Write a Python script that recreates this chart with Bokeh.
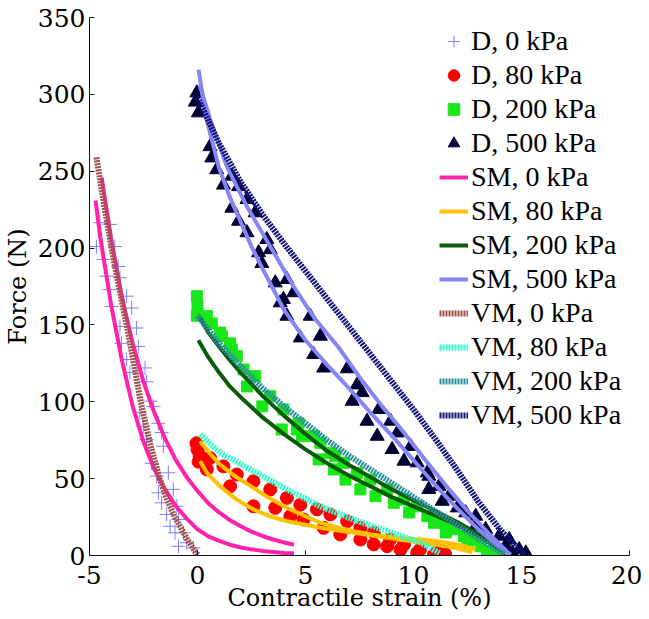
from bokeh.plotting import figure
from bokeh.models import Legend, LegendItem, Range1d, FixedTicker
from bokeh.embed import file_html
from bokeh.resources import INLINE

# ---------------- data ----------------
d0_x = [-4.52, -4.06, -4.68, -3.83, -4.36, -3.67, -4.21, -3.59, -4.06, -3.28, -3.98, -3.05,
        -3.59, -2.82, -3.52, -2.74, -3.28, -2.43, -3.13, -2.36, -2.20, -2.67, -2.04, -2.51,
        -1.81, -2.36, -1.66, -2.12, -1.58, -1.89, -1.35, -1.81, -1.12, -1.66, -0.96, -1.43,
        -0.88, -1.27, -0.65, -1.04, -0.50, -0.88, -0.19, -0.03]
d0_y = [216.5, 215.4, 201, 201, 192.6, 188, 181.7, 180.7, 173, 168.7, 162, 161,
        149, 148, 138, 136, 127.5, 122, 119, 113, 100.4, 93, 97, 84,
        86, 75.5, 80, 60, 71, 51.6, 53.8, 40.8, 43, 34.3, 32, 26.7,
        23.4, 19, 14.8, 14.8, 8.3, 6, 5, 0]

d80_x = [-0.05, 0.0, 0.1, 0.05, 0.58, 1.20, 1.82, 2.59, 3.37, 4.14, 4.76, 5.53, 6.15, 6.93,
         7.54, 8.16, 8.92, 9.56, 10.3, 11.1, 11.47,
         0.43, 1.51, 2.59, 3.6, 4.3, 4.91, 5.84, 6.61, 7.54, 8.16, 8.78, 9.4, 10.17, 10.95]
d80_y = [73, 69, 65, 61, 63.5, 58, 52.7, 48.3, 43, 37.5, 33, 30, 26.7, 22.3,
         18, 14.8, 10.4, 7.2, 3.9, 2, 0.7,
         56, 45, 32, 31, 25.6, 23.4, 18, 13.7, 10.4, 7.2, 6, 3.9, 1.7, 0.7]

d200_x = [-0.03, 0.0, -0.03, 0.43, 0.66, 1.05, 1.13, 1.51, 1.59, 1.82, 2.13, 2.29, 2.67,
          3.0, 3.37, 3.9, 3.98, 4.6, 4.68, 4.84, 5.38, 5.61, 5.69, 6.15, 6.31, 6.38, 6.77,
          6.85, 7.39, 7.54, 8.0, 8.24, 8.78, 9.09, 9.56, 9.8, 10.17, 10.64, 10.95, 11.41,
          11.5, 11.88, 12.34, 12.5, 12.8, 13.11, 13.4, 13.73, 14.0, 14.35]
d200_y = [168.7, 162, 156, 155.7, 151, 145, 142.7, 138, 134, 129.7, 121, 110, 116.7,
          97, 103.6, 82, 95, 82, 86, 77.6, 77.6, 62.5, 73.3, 66.8, 56, 64.6, 60.3,
          49.4, 53.8, 43, 49.4, 38.6, 43, 34.3, 36.4, 28, 32, 25.6, 21.3, 21.3,
          15, 17, 12.6, 8, 10.4, 6, 3, 1.7, 1, 0]

d500_x = [-0.03, 0.04, -0.1, 0.58, 0.66, 0.89, 1.2, 1.59, 1.59, 1.9, 1.9, 2.29, 2.29, 2.67,
          2.83, 2.98, 3.21, 3.37, 3.6, 3.83, 3.98, 4.14, 4.14, 4.45, 4.76, 5.22, 5.38, 5.69,
          5.84, 6.93, 7.16, 7.39, 7.62, 7.85, 8.32, 8.39, 8.94, 9.01, 9.25, 9.56, 9.87,
          10.17, 10.64, 10.71, 10.71, 11.18, 11.33, 11.64, 12.03, 12.42, 12.88, 12.88,
          13.34, 13.96, 14.27, 14.43, 14.58, 14.89, 15.2]
d500_y = [301, 288, 295, 266, 258.7, 251, 241, 246.8, 226, 240, 217.5, 231.6, 210, 223,
          197, 190, 205.6, 199, 177.4, 164.4, 166.6, 179.6, 155.7, 171, 141.6, 155.7, 130.8, 142.7,
          122, 121.5, 100.4, 111, 106, 87.4, 77.6, 95, 87.4, 69, 79.8, 61.4, 71,
          60.3, 53.8, 51.6, 43, 45, 35.3, 38.6, 31, 27.8, 25.6, 19,
          17, 12.6, 6, 10.4, 1.7, 3.9, 1.7]

sm0a_x = [-4.44, -4.0, -3.5, -3.0, -2.5, -2.0, -1.5, -1.0, -0.5, 0.0, 0.5, 1.0, 1.5, 2.0,
          2.5, 3.0, 3.5, 4.0, 4.47]
sm0a_y = [246, 206, 168, 138, 113, 93, 76, 62, 51, 42, 34, 28, 23, 19,
          15.5, 12.7, 10.4, 8.5, 7.0]
sm0b_x = [-4.72, -4.5, -4.0, -3.5, -3.0, -2.5, -2.0, -1.5, -1.0, -0.5, 0.0, 0.5, 1.0, 1.5,
          2.0, 2.5, 3.0, 3.5, 4.0, 4.47]
sm0b_y = [231, 207, 163, 127, 97, 74, 56, 43, 32, 24, 17, 12.5, 9.5, 7,
          5.2, 4, 3, 2.3, 1.7, 1.3]

sm80a_x = [0.12, 0.6, 1.05, 1.8, 2.59, 3.3, 4.14, 5.0, 5.69, 6.5, 7.23, 8.0, 8.78, 9.5,
           10.33, 11.0, 11.57, 12.3, 12.87]
sm80a_y = [74.4, 66, 59, 51, 44, 37.5, 31, 25.5, 21.3, 18.3, 15.8, 13.8, 12.2, 11.2,
           10.4, 9.5, 8.3, 6.3, 3.9]
sm80b_x = [0.12, 0.43, 1.05, 1.8, 2.59, 3.3, 4.14, 5.0, 5.69, 6.5, 7.23, 8.0, 8.78, 9.5,
           10.33, 11.0, 11.57, 12.2, 12.73]
sm80b_y = [61.4, 53.8, 45, 36.5, 30, 25.8, 22.3, 20, 18, 16.3, 14.8, 13.1, 11.5, 10,
           8.5, 7.2, 6, 4, 2]

sm200a_x = [0.1, 0.5, 1, 1.5, 2, 3, 4, 5, 6, 7, 8, 9, 10, 11, 12, 13, 14, 14.3]
sm200a_y = [155, 145, 136, 127, 119, 104, 91, 79, 68, 59, 51, 43, 36, 29, 22, 14, 5, 1]
sm200b_x = [0.04, 0.5, 1, 1.5, 2, 3, 4, 5, 6, 7, 8, 9, 10, 11, 12, 13, 14, 14.3]
sm200b_y = [140, 129, 119, 110, 103, 90, 79, 69, 60, 52, 45, 38, 32, 26, 20, 13, 4, 1]

sm500a_x = [0.05, 0.4, 1, 1.5, 2, 2.5, 3, 4, 5, 6, 7, 8, 9, 10, 11, 12, 13, 14, 14.4]
sm500a_y = [316, 285, 252, 233, 217, 201, 187, 160, 140, 124, 109, 93, 78, 62, 46, 31, 17, 5, 0.5]
sm500b_x = [0.1, 0.58, 1.36, 2.29, 3.37, 4.45, 5.46, 6.5, 7.5, 8.55, 9.5, 10.5, 11.65,
            12.5, 13.5, 14.3, 14.5]
sm500b_y = [306, 284, 253, 227, 201, 175, 153.5, 136, 116, 97, 81, 63, 43, 29, 14, 3, 0.5]

vm0_x = [-4.68, -4.3, -3.98, -3.6, -3.28, -2.95, -2.63, -2.2, -1.75, -1.4, -1.05, -0.5, 0.0]
vm0_y = [259, 226, 200, 172, 150, 125, 100, 73, 50, 36, 25, 11, 0.5]
vm80_x = [0.12, 1.05, 2.59, 4.14, 5.69, 7.23, 8.78, 10.33, 11.2]
vm80_y = [78.7, 66.8, 54.9, 43, 32, 23.4, 15.8, 8.3, 1.7]
vm200_x = [0, 1, 2, 3, 4, 5, 6, 7, 8, 9, 10, 11, 12, 13, 14, 14.2]
vm200_y = [156, 138, 123, 109, 97, 86, 75, 65, 56, 47, 38, 29, 20, 11, 2.5, 1]
vm500_x = [0, 1, 2, 3, 4, 5, 6, 7, 8, 9, 10, 11, 12, 13, 14, 15, 15.2]
vm500_y = [298, 268, 243, 222, 203, 185, 167, 149, 131, 113, 95, 76, 56, 35, 17, 2, 0]

x_ticks = [-5, 0, 5, 10, 15, 20]
y_ticks = [0, 50, 100, 150, 200, 250, 300, 350]

# ---------------- figure ----------------
F_AXIS = "DejaVu Serif"
F_LEG = "serif"
p = figure(frame_width=540, frame_height=538, output_backend="svg", toolbar_location=None,
           x_range=Range1d(-5, 20), y_range=Range1d(0, 350),
           min_border_left=80, min_border_right=13, min_border_top=17, min_border_bottom=62)
p.grid.visible = False
p.outline_line_color = None

for ax in (p.xaxis[0], p.yaxis[0]):
    ax.major_label_text_font = F_AXIS
    ax.major_label_text_font_size = "25px"
    ax.major_label_text_color = "black"
    ax.axis_label_text_font = F_AXIS
    ax.axis_label_text_font_size = "24px"
    ax.axis_label_text_font_style = "normal"
    ax.axis_label_text_color = "black"
    ax.axis_line_color = "#111111"
    ax.major_tick_line_color = "#111111"
    ax.major_tick_in = 5
    ax.major_tick_out = 0
    ax.minor_tick_line_color = None

p.xaxis.ticker = FixedTicker(ticks=x_ticks)
p.yaxis.ticker = FixedTicker(ticks=y_ticks)
p.xaxis.major_label_overrides = {-5: "-5"}
p.xaxis.axis_label = "Contractile strain (%)"
p.yaxis.axis_label = "Force (N)"
p.xaxis.major_label_standoff = 10
p.xaxis.axis_label_standoff = -3
p.yaxis.major_label_standoff = 4
p.yaxis.axis_label_standoff = 3

C_D0 = "#7f7fff"
C_D80 = "#ff0000"
C_D200 = "#19e619"
C_D500 = "#000033"
C_SM0 = "#ff22aa"
C_SM80 = "#ffc000"
C_SM200 = "#0a5a0a"
C_SM500 = "#8585f5"
C_VM0 = "#a0524d"
C_VM80 = "#33ffcc"
C_VM200 = "#2a8f9c"
C_VM500 = "#12127a"

r_d0 = p.scatter(d0_x, d0_y, marker="cross", size=14, line_color=C_D0, line_width=1)
r_d80 = p.scatter(d80_x, d80_y, marker="circle", size=13, fill_color=C_D80, line_color=C_D80)
r_d200 = p.scatter(d200_x, d200_y, marker="square", size=11, fill_color=C_D200, line_color=C_D200)
r_d500 = p.scatter(d500_x, d500_y, marker="triangle", size=14, fill_color=C_D500, line_color=C_D500)

SMW = 4
r_sm0 = p.line(sm0a_x, sm0a_y, line_color=C_SM0, line_width=SMW)
p.line(sm0b_x, sm0b_y, line_color=C_SM0, line_width=SMW)
r_sm80 = p.line(sm80a_x, sm80a_y, line_color=C_SM80, line_width=SMW)
p.line(sm80b_x, sm80b_y, line_color=C_SM80, line_width=SMW)
r_sm200 = p.line(sm200a_x, sm200a_y, line_color=C_SM200, line_width=SMW)
p.line(sm200b_x, sm200b_y, line_color=C_SM200, line_width=SMW)
r_sm500 = p.line(sm500a_x, sm500a_y, line_color=C_SM500, line_width=SMW)
p.line(sm500b_x, sm500b_y, line_color=C_SM500, line_width=SMW)

VMW = 6
DASH = "2 1"
r_vm0 = p.line(vm0_x, vm0_y, line_color=C_VM0, line_width=VMW, line_dash=DASH)
r_vm80 = p.line(vm80_x, vm80_y, line_color=C_VM80, line_width=VMW, line_dash=DASH)
r_vm200 = p.line(vm200_x, vm200_y, line_color=C_VM200, line_width=VMW, line_dash=DASH)
r_vm500 = p.line(vm500_x, vm500_y, line_color=C_VM500, line_width=VMW, line_dash=DASH)

items = [
    LegendItem(label="D, 0 kPa", renderers=[r_d0]),
    LegendItem(label="D, 80 kPa", renderers=[r_d80]),
    LegendItem(label="D, 200 kPa", renderers=[r_d200]),
    LegendItem(label="D, 500 kPa", renderers=[r_d500]),
    LegendItem(label="SM, 0 kPa", renderers=[r_sm0]),
    LegendItem(label="SM, 80 kPa", renderers=[r_sm80]),
    LegendItem(label="SM, 200 kPa", renderers=[r_sm200]),
    LegendItem(label="SM, 500 kPa", renderers=[r_sm500]),
    LegendItem(label="VM, 0 kPa", renderers=[r_vm0]),
    LegendItem(label="VM, 80 kPa", renderers=[r_vm80]),
    LegendItem(label="VM, 200 kPa", renderers=[r_vm200]),
    LegendItem(label="VM, 500 kPa", renderers=[r_vm500]),
]
legend = Legend(items=items, location=(350, 124), padding=0, margin=0, spacing=2,
                border_line_color=None, background_fill_alpha=0,
                label_text_font=F_LEG, label_text_font_size="28px", label_text_color="black",
                glyph_width=29, glyph_height=30, label_height=30, label_standoff=3)
p.add_layout(legend)

open("out.html", "w").write(file_html(p, INLINE))
